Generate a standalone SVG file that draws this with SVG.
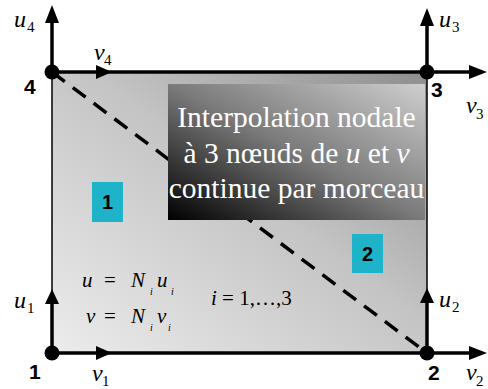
<svg xmlns="http://www.w3.org/2000/svg" width="488" height="389" viewBox="0 0 488 389">
<style>
.thick{stroke:#000;stroke-width:3.5;fill:none}
.thin{stroke:#000;stroke-width:1.5;fill:none}
.dash{stroke:#000;stroke-width:3.5;fill:none;stroke-dasharray:16 10}
.head{fill:#000}
.dot{fill:#000}
.serif{font-family:'Liberation Serif','Times New Roman',serif}
.sans{font-family:'Liberation Sans',Arial,sans-serif}
.var{font-style:italic;font-size:24px;fill:#000}
.sub{font-size:15px;fill:#000}
.num{font-weight:bold;font-size:21px;fill:#000}
.m{font-size:21px;fill:#000}
.mi{font-style:italic}
.ms{font-style:italic;font-size:10px;fill:#000}
.box{font-size:29.5px;fill:#fff;text-anchor:middle}
.tl{font-weight:bold;font-size:20px;fill:#000;text-anchor:middle}
.teal{fill:#1fb3c9}
</style>
<defs>
<linearGradient id="plate" x1="0" y1="1" x2="1" y2="0">
<stop offset="0" stop-color="#ececec"/>
<stop offset="0.55" stop-color="#c4c4c4"/>
<stop offset="1" stop-color="#8e8e8e"/>
</linearGradient>
<linearGradient id="dark" x1="0" y1="1" x2="1" y2="0">
<stop offset="0" stop-color="#000"/>
<stop offset="0.5" stop-color="#7a7a7a"/>
<stop offset="1" stop-color="#cfcfcf"/>
</linearGradient>
</defs>
<rect id="plate-fill" x="52" y="72" width="375" height="281" fill="url(#plate)"/>
<g id="connectors">
<line class="thin" x1="52" y1="72" x2="52" y2="353"/>
<line class="thin" x1="427" y1="72" x2="427" y2="353"/>
<line class="thick" x1="52" y1="72" x2="427" y2="72"/>
<line class="thick" x1="52" y1="353" x2="427" y2="353"/>
<line class="dash" x1="52" y1="72" x2="427" y2="353"/>
<line class="thick" x1="52" y1="72" x2="52" y2="20"/>
<polygon class="head" points="52,5 45,23 59,23"/>
<polygon class="head" points="112,72 96,65 96,79"/>
<line class="thick" x1="427" y1="72" x2="427" y2="22"/>
<polygon class="head" points="427,8 420,26 434,26"/>
<line class="thick" x1="427" y1="72" x2="472" y2="72"/>
<polygon class="head" points="487,72 469,65 469,79"/>
<line class="thick" x1="52" y1="353" x2="52" y2="300"/>
<polygon class="head" points="52,289 45,304 59,304"/>
<polygon class="head" points="112,353 96,346 96,360"/>
<line class="thick" x1="427" y1="353" x2="427" y2="300"/>
<polygon class="head" points="427,288 420,303 434,303"/>
<line class="thick" x1="427" y1="353" x2="472" y2="353"/>
<polygon class="head" points="487,353 469,346 469,360"/>
</g>
<g id="node4">
<circle class="dot" cx="52" cy="72" r="7.5"/>
<text class="num sans" x="24" y="94">4</text>
<text class="var serif" x="14" y="27">u</text><text class="sub serif" x="27" y="32">4</text>
<text class="var serif" x="94" y="60">v</text><text class="sub serif" x="104" y="65">4</text>
</g>
<g id="node3">
<circle class="dot" cx="427" cy="72" r="7.5"/>
<text class="num sans" x="431" y="97">3</text>
<text class="var serif" x="439" y="27">u</text><text class="sub serif" x="452" y="32">3</text>
<text class="var serif" x="466" y="113">v</text><text class="sub serif" x="476" y="119">3</text>
</g>
<g id="node1">
<circle class="dot" cx="52" cy="353" r="7.5"/>
<text class="num sans" x="29" y="379">1</text>
<text class="var serif" x="14" y="308">u</text><text class="sub serif" x="27" y="313">1</text>
<text class="var serif" x="92" y="381">v</text><text class="sub serif" x="102" y="386">1</text>
</g>
<g id="node2">
<circle class="dot" cx="427" cy="353" r="7.5"/>
<text class="num sans" x="428" y="380">2</text>
<text class="var serif" x="439" y="307">u</text><text class="sub serif" x="452" y="312">2</text>
<text class="var serif" x="466" y="380">v</text><text class="sub serif" x="476" y="386">2</text>
</g>
<g id="label-box">
<rect x="168" y="84" width="257" height="136" fill="url(#dark)"/>
<text class="box serif" x="296.5" y="127">Interpolation nodale</text>
<text class="box serif" x="296.5" y="162.5">à 3 nœuds de <tspan class="mi">u</tspan> et <tspan class="mi">v</tspan></text>
<text class="box serif" x="296.5" y="198">continue par morceau</text>
</g>
<g id="region1">
<rect class="teal" x="92" y="182" width="31" height="40"/>
<text class="tl sans" x="107.5" y="209">1</text>
</g>
<g id="region2">
<rect class="teal" x="352" y="234" width="31" height="39"/>
<text class="tl sans" x="367.5" y="261">2</text>
</g>
<g id="formulas">
<text class="m mi serif" x="82" y="287">u</text>
<text class="m serif" x="104" y="287">=</text>
<text class="m mi serif" x="131" y="287">N</text>
<text class="ms serif" x="150" y="295">i</text>
<text class="m mi serif" x="157" y="287">u</text>
<text class="ms serif" x="171" y="295">i</text>
<text class="m mi serif" x="86" y="323">v</text>
<text class="m serif" x="104" y="323">=</text>
<text class="m mi serif" x="131" y="323">N</text>
<text class="ms serif" x="150" y="331">i</text>
<text class="m mi serif" x="157" y="323">v</text>
<text class="ms serif" x="168" y="331">i</text>
<text class="m serif" x="211" y="305"><tspan class="mi">i</tspan> = 1,…,3</text>
</g>
</svg>
